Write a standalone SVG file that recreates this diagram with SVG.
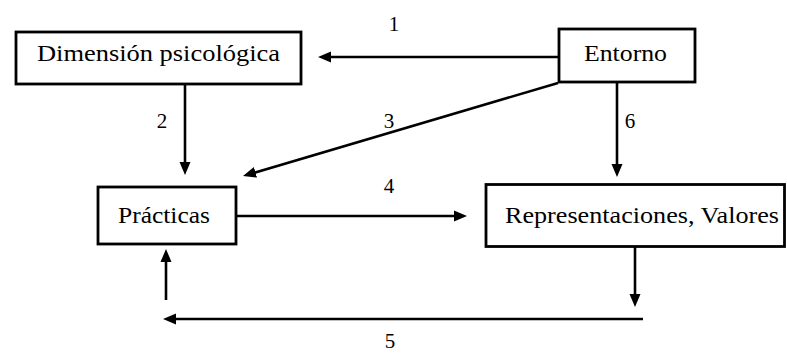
<svg xmlns="http://www.w3.org/2000/svg" width="787" height="353" viewBox="0 0 787 353">
<style>
.box{fill:#fff;stroke:#000;stroke-width:2.8}
.t{font-family:"Liberation Serif","Times New Roman",serif;font-size:23px;fill:#000}
.lb{font-family:"Liberation Serif","Times New Roman",serif;font-size:21px;fill:#000;text-anchor:middle}
.c{stroke:#000;stroke-width:2.6;fill:none}
</style>
<defs>
<marker id="ah" markerUnits="userSpaceOnUse" markerWidth="14" markerHeight="12" refX="3" refY="6" orient="auto">
<path d="M0,0.5 L13,6 L0,11.5 z" fill="#000"/>
</marker>
</defs>
<rect width="787" height="353" fill="#fff"/>
<g id="connectors">
<line class="c" x1="558" y1="57" x2="328" y2="57" marker-end="url(#ah)"/>
<line class="c" x1="185" y1="85" x2="185" y2="165" marker-end="url(#ah)"/>
<line class="c" x1="558" y1="83" x2="252.6" y2="173.2" marker-end="url(#ah)"/>
<line class="c" x1="237" y1="216" x2="457" y2="216" marker-end="url(#ah)"/>
<line class="c" x1="617" y1="83" x2="617" y2="167" marker-end="url(#ah)"/>
<line class="c" x1="635" y1="247" x2="635" y2="297" marker-end="url(#ah)"/>
<line class="c" x1="643" y1="319" x2="173" y2="319" marker-end="url(#ah)"/>
<line class="c" x1="166" y1="300" x2="166" y2="259" marker-end="url(#ah)"/>
<text class="lb" x="394" y="31">1</text>
<text class="lb" x="162" y="128">2</text>
<text class="lb" x="389" y="128">3</text>
<text class="lb" x="389" y="193">4</text>
<text class="lb" x="390" y="348">5</text>
<text class="lb" x="630" y="128">6</text>
</g>
<g id="dimension">
<rect class="box" x="16" y="32" width="285" height="52"/>
<text class="t" x="37" y="61" textLength="243" lengthAdjust="spacingAndGlyphs">Dimensión psicológica</text>
</g>
<g id="entorno">
<rect class="box" x="559" y="29" width="136" height="53"/>
<text class="t" x="584" y="61" textLength="83" lengthAdjust="spacingAndGlyphs">Entorno</text>
</g>
<g id="practicas">
<rect class="box" x="98" y="187" width="138" height="57"/>
<text class="t" x="118" y="223" textLength="92" lengthAdjust="spacingAndGlyphs">Prácticas</text>
</g>
<g id="representaciones">
<rect class="box" x="486" y="184.5" width="298.5" height="62"/>
<text class="t" x="505" y="223" textLength="274" lengthAdjust="spacingAndGlyphs">Representaciones, Valores</text>
</g>
</svg>
